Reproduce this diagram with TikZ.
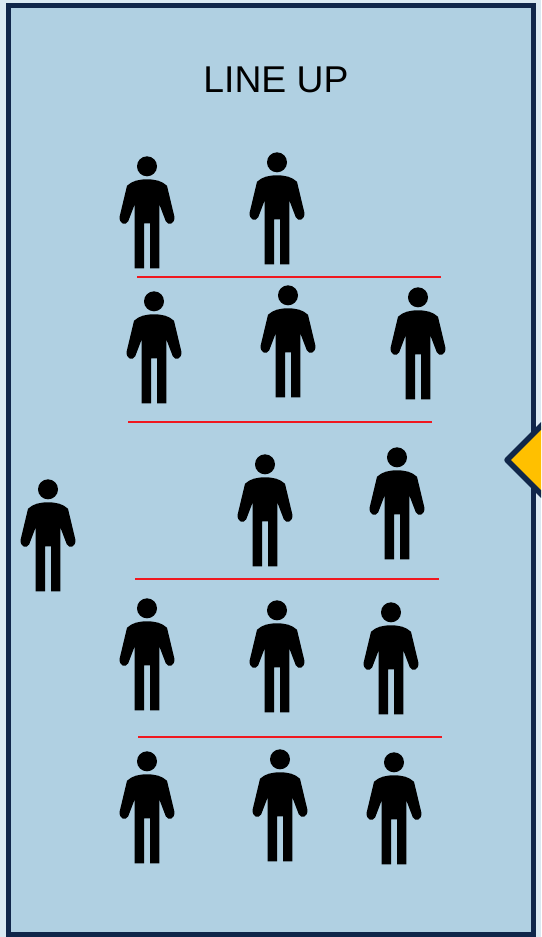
\documentclass[tikz,border=0pt]{standalone}
\usepackage{fontspec}
\setmainfont{Liberation Sans}
\definecolor{pagebg}{HTML}{DAE9F2}
\definecolor{panelfill}{HTML}{B0D0E2}
\definecolor{navy}{HTML}{10264A}
\definecolor{amber}{HTML}{FFC000}
\definecolor{redline}{HTML}{F01820}
\tikzset{
  panel/.style={draw=navy,fill=panelfill,line width=5pt,line join=miter},
  pointer/.style={draw=navy,fill=amber,line width=5.5pt,line join=round},
  rowline/.style={draw=redline,line width=2.5pt},
  title/.style={font=\fontsize{37.3}{40}\selectfont,text=black,inner sep=0pt},
  person/.pic={
    \fill[black] (0,0) circle (10);
    \fill[black] (0,13) .. controls (8,13) and (15,14.5) .. (20,19.5)
      -- (27.3,50)
      .. controls (28.5,57.5) and (21,60) .. (18.8,55)
      -- (12.3,38)
      -- (12.3,102) -- (3,102) -- (3,57) -- (-3,57) -- (-3,102) -- (-12.3,102) -- (-12.3,38)
      -- (-18.8,55)
      .. controls (-21,60) and (-28.5,57.5) .. (-27.3,50)
      -- (-20,19.5)
      .. controls (-15,14.5) and (-8,13) .. (0,13) -- cycle;
  }
}
\begin{document}
\begin{tikzpicture}[x=1pt,y=-1pt]
\useasboundingbox (0,0) rectangle (541,937);
\fill[pagebg] (0,0) rectangle (541,937);
\draw[panel] (8.5,5.5) rectangle (533.5,934.5);
\begin{scope}
\clip (0,0) rectangle (541,937);
\draw[pointer] (507,460) -- (560,407) -- (613,460) -- (560,513) -- cycle;
\end{scope}
\node[title] (heading) at (276,80) {LINE UP};
\draw[rowline] (137,277) -- (441,277);
\draw[rowline] (128,422) -- (432,422);
\draw[rowline] (135,579) -- (439,579);
\draw[rowline] (138,737) -- (442,737);
\foreach \px/\py in {147/166.3,277/162.3,154/301.3,288/295.3,418/297.3,265/464.3,397/457.3,48/489.3,147/608.3,277/610.3,391/612.3,147/761.3,280/759.3,394/762.3}
  \pic at (\px,\py) {person};
\end{tikzpicture}
\end{document}
